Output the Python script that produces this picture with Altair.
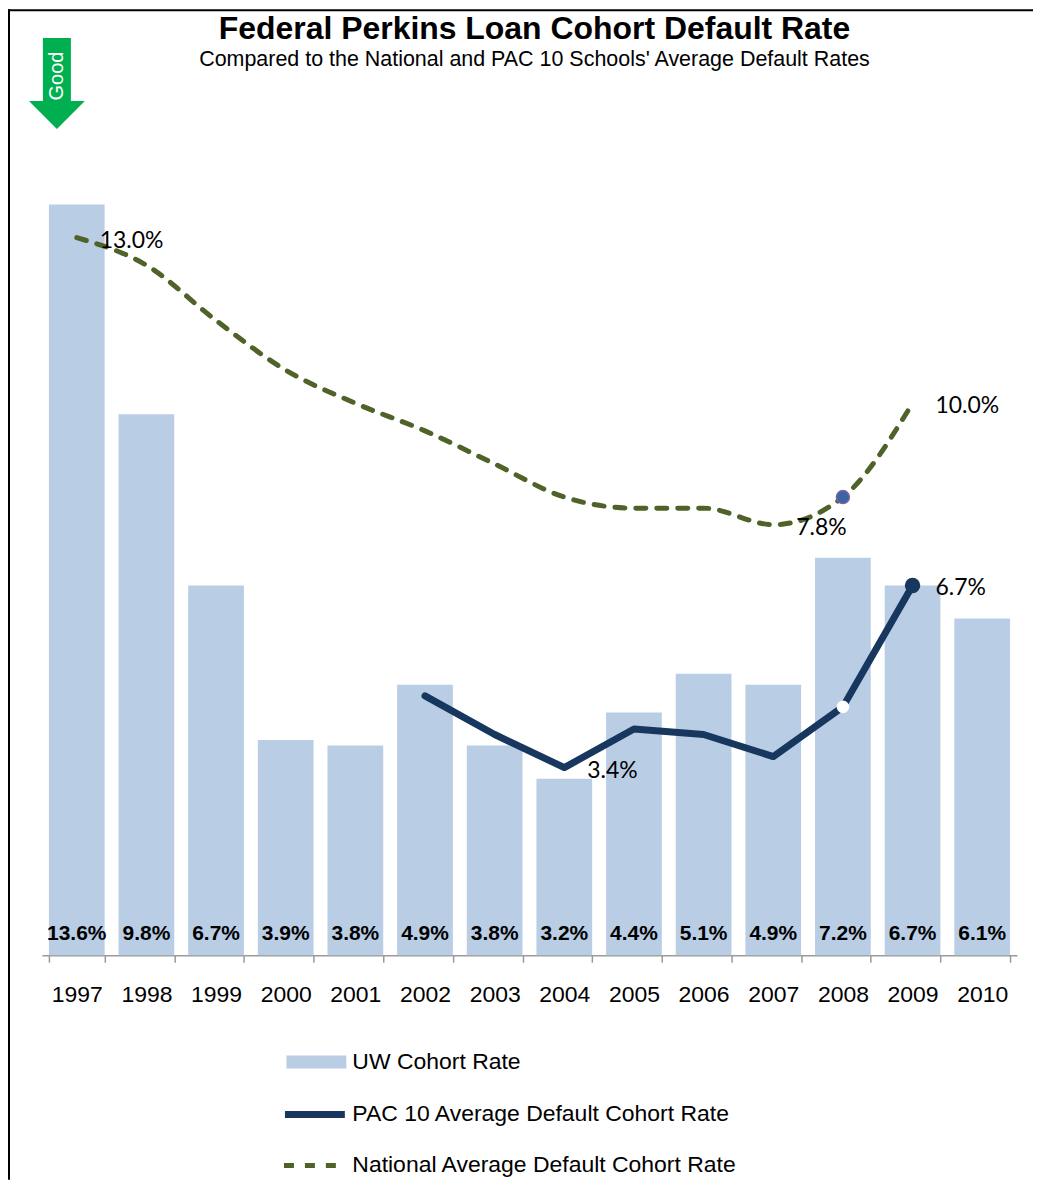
import altair as alt
import pandas as pd

# ---------------- data ----------------
years = ["1997", "1998", "1999", "2000", "2001", "2002", "2003",
         "2004", "2005", "2006", "2007", "2008", "2009", "2010"]
uw_rate = [13.6, 9.8, 6.7, 3.9, 3.8, 4.9, 3.8, 3.2, 4.4, 5.1, 4.9, 7.2, 6.7, 6.1]
national_rate = [13.0, 12.5, 11.5, 10.6, 10.0, 9.5, 8.9, 8.3, 8.1, 8.1, 7.8, 8.3, 10.0, None]
pac10_rate = [None, None, None, None, None, 4.7, 4.0, 3.4, 4.1, 4.0, 3.6, 4.5, 6.7, None]

national_label_years = ["1997", "2007", "2009"]
pac10_label_years = ["2004", "2009"]
national_marker_years = ["2008"]
pac10_dark_marker_years = ["2009"]
pac10_white_marker_years = ["2008"]

series_names = ["UW Cohort Rate",
                "PAC 10 Average Default Cohort Rate",
                "National Average Default Cohort Rate"]

title_text = "Federal Perkins Loan Cohort Default Rate"
subtitle_text = "Compared to the National and PAC 10 Schools' Average Default Rates"
arrow_text = "Good"

df = pd.DataFrame({"year": years, "uw": uw_rate,
                   "nat": national_rate, "pac": pac10_rate})
df["s_bar"] = series_names[0]
df["s_pac"] = series_names[1]
df["s_nat"] = series_names[2]

nat_lab = df[df["year"].isin(national_label_years)]
pac_lab = df[df["year"].isin(pac10_label_years)]
nat_mark = df[df["year"].isin(national_marker_years)]
pac_dark = df[df["year"].isin(pac10_dark_marker_years)]
pac_white = df[df["year"].isin(pac10_white_marker_years)]

# ---------------- styles ----------------
BAR = "#B9CDE5"
PAC = "#17375E"
NAT = "#4F6228"
AXIS_GRAY = "#9A9A9A"
FONT = "Liberation Sans"
LABEL_FONT = "Lato"

W, H = 977, 885

X = alt.X("year:O", sort=years,
          scale=alt.Scale(paddingInner=0.2, paddingOuter=0.1),
          axis=alt.Axis(title=None, labelAngle=0, tickBand="extent",
                        tickSize=7, tickColor=AXIS_GRAY, tickWidth=1.5,
                        domainColor=AXIS_GRAY, domainWidth=1.5,
                        labelFont=FONT, labelFontSize=23, labelColor="black",
                        labelPadding=21, grid=False))
YS = alt.Scale(domain=[0, 16])

bar_path = "M-1,-0.217L1,-0.217L1,0.217L-1,0.217Z"

LEG = dict(orient="none", title=None, labelFont=FONT, labelFontSize=23,
           labelColor="black", labelLimit=0, padding=0)

bars = alt.Chart(df).mark_bar(opacity=1).encode(
    x=X,
    y=alt.Y("uw:Q", scale=YS, axis=None),
    fill=alt.Fill("s_bar:N",
                  scale=alt.Scale(domain=[series_names[0]], range=[BAR]),
                  legend=alt.Legend(legendX=245, legendY=962,
                                    symbolType=bar_path, symbolSize=3600,
                                    symbolStrokeWidth=0, labelOffset=6,
                                    **LEG)),
)

bar_text = alt.Chart(df).transform_calculate(
    lbl="format(datum.uw, '.1f') + '%'", zero="0"
).mark_text(font=FONT, fontSize=21, fontWeight="bold", color="black",
            baseline="alphabetic", dy=-15).encode(
    x=X, y=alt.Y("zero:Q", scale=YS, axis=None), text="lbl:N")

nat_line = alt.Chart(df).transform_filter("isValid(datum.nat)").mark_line(
    color=NAT, strokeWidth=5, strokeCap="round", strokeJoin="round",
    interpolate="monotone").encode(
    x=X,
    y=alt.Y("nat:Q", scale=YS, axis=None),
    strokeDash=alt.StrokeDash(
        "s_nat:N",
        scale=alt.Scale(domain=[series_names[2]], range=[[10, 11]]),
        legend=alt.Legend(legendX=240, legendY=1063,
                          symbolType="stroke", symbolSize=3600,
                          symbolStrokeColor=NAT, symbolStrokeWidth=5,
                          labelOffset=6, **LEG)),
)

pac_line = alt.Chart(df).transform_filter("isValid(datum.pac)").mark_line(
    strokeWidth=7, strokeCap="round", strokeJoin="round").encode(
    x=X,
    y=alt.Y("pac:Q", scale=YS, axis=None),
    stroke=alt.Stroke(
        "s_pac:N",
        scale=alt.Scale(domain=[series_names[1]], range=[PAC]),
        legend=alt.Legend(legendX=240, legendY=1011,
                          symbolType="stroke", symbolSize=3600,
                          symbolStrokeWidth=7, labelOffset=4, **LEG)),
)

nat_pt = alt.Chart(nat_mark).mark_point(
    filled=True, size=170, fill="#3C64A4", stroke="#8064A2",
    strokeWidth=1.5, opacity=1).encode(
    x=X, y=alt.Y("nat:Q", scale=YS, axis=None))

pac_dark_pt = alt.Chart(pac_dark).mark_point(
    filled=True, size=240, fill=PAC, opacity=1).encode(
    x=X, y=alt.Y("pac:Q", scale=YS, axis=None))

pac_white_pt = alt.Chart(pac_white).mark_point(
    filled=True, size=160, fill="white", opacity=1).encode(
    x=X, y=alt.Y("pac:Q", scale=YS, axis=None))

nat_text = alt.Chart(nat_lab).transform_calculate(
    lbl="format(datum.nat, '.1f') + '%'"
).mark_text(font=LABEL_FONT, fontSize=23, color="black", align="left",
            baseline="middle", dx=23, dy=3).encode(
    x=X, y=alt.Y("nat:Q", scale=YS, axis=None), text="lbl:N")

pac_text = alt.Chart(pac_lab).transform_calculate(
    lbl="format(datum.pac, '.1f') + '%'"
).mark_text(font=LABEL_FONT, fontSize=23, color="black", align="left",
            baseline="middle", dx=23, dy=3).encode(
    x=X, y=alt.Y("pac:Q", scale=YS, axis=None), text="lbl:N")

# ---------------- titles & decorations ----------------
deco = pd.DataFrame({"label": [arrow_text], "title": [title_text],
                     "subtitle": [subtitle_text]})

title = alt.Chart(deco).mark_text(
    font=FONT, fontSize=32, fontWeight="bold", color="black",
    align="center", baseline="alphabetic").encode(
    x=alt.value(493.5), y=alt.value(-33), text="title:N")
subtitle = alt.Chart(deco).mark_text(
    font=FONT, fontSize=21.5, color="black",
    align="center", baseline="alphabetic").encode(
    x=alt.value(493.5), y=alt.value(-6), text="subtitle:N")

arrow_path = ("M-0.308,-1L0.308,-1L0.308,0.385L0.615,0.385L0,1"
              "L-0.615,0.385L-0.308,0.385Z")
arrow = alt.Chart(deco).mark_point(
    shape=arrow_path, size=8281, filled=True, fill="#00B050",
    strokeWidth=0, opacity=1).encode(x=alt.value(15), y=alt.value(11.5))
good = alt.Chart(deco).mark_text(
    font=FONT, fontSize=20, color="white", angle=270,
    align="center", baseline="middle").encode(
    x=alt.value(15), y=alt.value(4), text="label:N")

frame_left = alt.Chart(deco).mark_rule(color="black", strokeWidth=2).encode(
    x=alt.value(-33), y=alt.value(-63), y2=alt.value(1110))
frame_top = alt.Chart(deco).mark_rule(color="black", strokeWidth=2).encode(
    x=alt.value(-34), x2=alt.value(993), y=alt.value(-62))

chart = alt.layer(
    bars, bar_text, nat_line, pac_line, nat_pt, pac_white_pt, pac_dark_pt,
    nat_text, pac_text, title, subtitle, arrow, good, frame_left, frame_top
).properties(
    width=W, height=H,
    autosize=alt.AutoSizeParams(type="none"),
    padding={"left": 34, "top": 63, "right": 16, "bottom": 225},
).configure(background="white").configure_view(strokeWidth=0, stroke=None)

chart.save("out.html", embed_options={"renderer": "svg", "actions": False})
